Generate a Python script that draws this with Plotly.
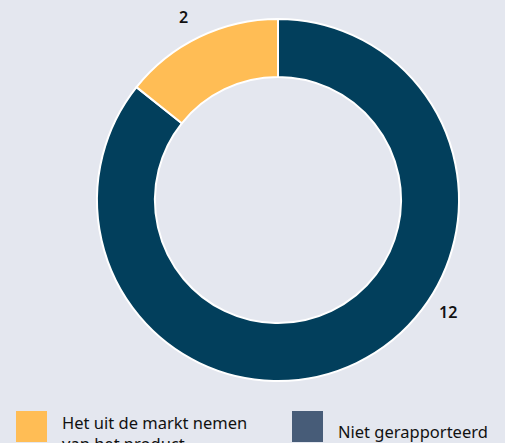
import plotly.graph_objects as go

labels = ['Niet gerapporteerd', 'Het uit de markt nemen van het product']
values = [12, 2]
slice_colors = ['#023f5c', '#ffbd55']

legend_text = ['Het uit de markt nemen<br>van het product', 'Niet gerapporteerd']
legend_colors = ['#ffbd55', '#475c78']

BG = '#e4e7ef'
W, H = 505, 443

fig = go.Figure(go.Pie(
    labels=labels, values=values, hole=0.68, sort=False, direction='clockwise',
    rotation=0, marker=dict(colors=slice_colors, line=dict(color='white', width=2)),
    textinfo='none', hoverinfo='label+value', showlegend=False,
    domain=dict(x=[97 / W, 459 / W], y=[1 - 381 / H, 1 - 19 / H]),
))

# value labels outside the ring
for txt, (px_, py_) in zip([str(v) for v in values], [(448, 312), (183, 17)]):
    fig.add_annotation(x=px_ / W, y=1 - py_ / H, xref='paper', yref='paper', text=txt,
                       showarrow=False, xanchor='center', yanchor='middle',
                       font=dict(size=16, color='#111111', weight=600))

# custom legend with large squares
for i, (txt, col) in enumerate(zip(legend_text, legend_colors)):
    x0 = [16, 292][i]
    fig.add_shape(type='rect', xref='paper', yref='paper', x0=x0 / W, x1=(x0 + 31) / W,
                  y0=1 - 442 / H, y1=1 - 411 / H, fillcolor=col, line=dict(width=0))
    fig.add_annotation(x=(x0 + 44) / W, y=1 - [409, 418][i] / H, xref='paper', yref='paper',
                       text=txt, showarrow=False, xanchor='left', yanchor='top', align='left',
                       font=dict(size=16.5, color='#111111'))

fig.update_layout(
    width=W, height=H, margin=dict(l=0, r=0, t=0, b=0),
    paper_bgcolor=BG, plot_bgcolor=BG,
    font=dict(family='Noto Sans, sans-serif'),
)

fig.write_html("out.html", config={'displayModeBar': False},
               post_script="document.body.style.margin='0';")
